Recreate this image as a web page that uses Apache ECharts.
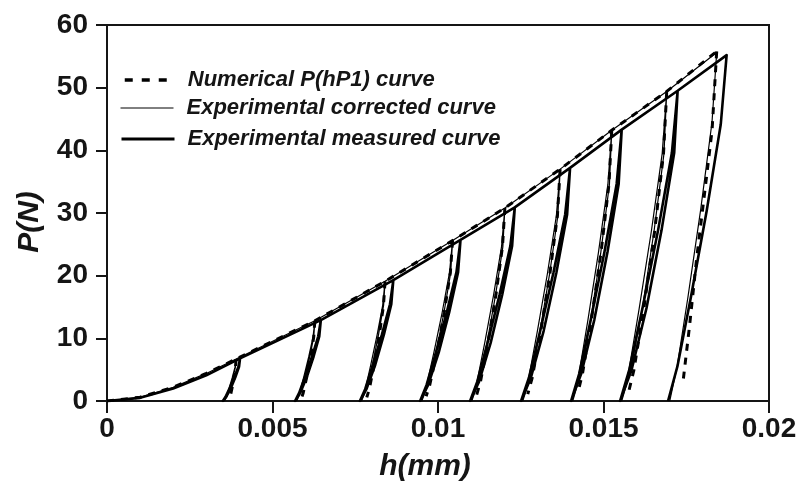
<!DOCTYPE html>
<html>
<head>
<meta charset="utf-8">
<script src="https://cdn.jsdelivr.net/npm/echarts@6/dist/echarts.min.js"></script>
<style>
html,body{margin:0;padding:0;background:#fff;}
#chart{width:802px;height:488px;}
</style>
</head>
<body>
<div id="chart"></div>
<script>
// ---- data: [h (mm), P (N)] ----
const seriesNames = ['Numerical P(hP1) curve', 'Experimental corrected curve', 'Experimental measured curve'];
const xTickLabels = ['0', '0.005', '0.01', '0.015', '0.02'];
const yTickLabels = ['0', '10', '20', '30', '40', '50', '60'];

// numerical: loading envelope
const numericalLoading = [[0,0],[0.001,0.6],[0.002,2.2],[0.003,4.4],[0.0039,6.7],[0.00628,12.8],[0.0084,19.1],
  [0.01044,25.6],[0.01202,30.8],[0.01369,37.0],[0.01525,43.2],[0.01691,49.4],[0.01842,55.8]];
// numerical: unloading branches
const numericalUnloading = [
  [[0.0039,6.7],[0.003882,5.36],[0.003834,3.69],[0.003775,2.01],[0.00372,0.67],[0.003691,0.2]],
  [[0.00628,12.8],[0.006246,10.24],[0.006151,7.04],[0.006035,3.84],[0.005927,1.28],[0.005872,0.38]],
  [[0.0084,19.1],[0.008354,15.28],[0.008226,10.51],[0.008069,5.73],[0.007924,1.91],[0.007849,0.57]],
  [[0.01044,25.6],[0.010373,20.48],[0.010188,14.08],[0.009961,7.68],[0.009751,2.56],[0.009642,0.77]],
  [[0.01202,30.8],[0.011948,24.64],[0.01175,16.94],[0.011507,9.24],[0.011282,3.08],[0.011165,0.92]],
  [[0.01369,37.0],[0.013608,29.6],[0.013381,20.35],[0.013103,11.1],[0.012845,3.7],[0.012712,1.11]],
  [[0.01525,43.2],[0.015164,34.56],[0.014926,23.76],[0.014634,12.96],[0.014364,4.32],[0.014224,1.3]],
  [[0.01691,49.4],[0.016813,39.52],[0.016547,27.17],[0.01622,14.82],[0.015918,4.94],[0.015761,1.48]],
  [[0.01842,55.8],[0.01828,43.2],[0.01805,33],[0.01782,23],[0.0176,12],[0.01741,3.4]]
];

// experimental corrected curve (load / unload / reload cycles)
const correctedCurve = [
  [0,0],[0.001,0.6],[0.002,2.2],[0.003,4.4],
  [0.0039,6.7],[0.003865,5.36],[0.003781,3.69],[0.003687,2.01],[0.003606,0.67],[0.00355,0],[0.00362,0.67],[0.003711,2.01],[0.003802,3.69],[0.003879,5.36],[0.0039,6.7],
  [0.00628,12.8],[0.006225,10.24],[0.006093,7.04],[0.005945,3.84],[0.005818,1.28],[0.00573,0],[0.00584,1.28],[0.005983,3.84],[0.006126,7.04],[0.006247,10.24],[0.00628,12.8],
  [0.0084,19.1],[0.008329,15.28],[0.008159,10.51],[0.007967,5.73],[0.007804,1.91],[0.00769,0],[0.007832,1.91],[0.008017,5.73],[0.008201,10.51],[0.008357,15.28],[0.0084,19.1],
  [0.01044,25.6],[0.010347,20.48],[0.010124,14.08],[0.009873,7.68],[0.009659,2.56],[0.00951,0],[0.009696,2.56],[0.009938,7.68],[0.01018,14.08],[0.010384,20.48],[0.01044,25.6],
  [0.01202,30.8],[0.01192,24.64],[0.01168,16.94],[0.01141,9.24],[0.01118,3.08],[0.01102,0],[0.01122,3.08],[0.01148,9.24],[0.01174,16.94],[0.01196,24.64],[0.01202,30.8],
  [0.01369,37.0],[0.013577,29.6],[0.013306,20.35],[0.013001,11.1],[0.012741,3.7],[0.01256,0],[0.012786,3.7],[0.01308,11.1],[0.013374,20.35],[0.013622,29.6],[0.01369,37.0],
  [0.01525,43.2],[0.015132,34.56],[0.014849,23.76],[0.01453,12.96],[0.014259,4.32],[0.01407,0],[0.014306,4.32],[0.014613,12.96],[0.01492,23.76],[0.015179,34.56],[0.01525,43.2],
  [0.01691,49.4],[0.016774,39.52],[0.016448,27.17],[0.01608,14.82],[0.015768,4.94],[0.01555,0],[0.015822,4.94],[0.016176,14.82],[0.016529,27.17],[0.016828,39.52],[0.01691,49.4],
  [0.01842,55.6],[0.018278,44.48],[0.017937,30.58],[0.017554,16.68],[0.017227,5.56],[0.017,0]
];

// experimental measured curve (load / unload / reload cycles)
const measuredCurve = [
  [0,0],[0.001,0.5],[0.002,2.0],[0.003,4.1],
  [0.00402,6.8],[0.003968,5.44],[0.003843,3.74],[0.003703,2.04],[0.003583,0.68],[0.0035,0],[0.003604,0.68],[0.003739,2.04],[0.003874,3.74],[0.003989,5.44],[0.00402,6.8],
  [0.00646,12.9],[0.006382,10.32],[0.006195,7.1],[0.005984,3.87],[0.005805,1.29],[0.00568,0],[0.005836,1.29],[0.006039,3.87],[0.006242,7.1],[0.006413,10.32],[0.00646,12.9],
  [0.00865,19.3],[0.008549,15.44],[0.008307,10.62],[0.008034,5.79],[0.007802,1.93],[0.00764,0],[0.007842,1.93],[0.008105,5.79],[0.008367,10.62],[0.008589,15.44],[0.00865,19.3],
  [0.01068,25.7],[0.010558,20.56],[0.010265,14.14],[0.009936,7.71],[0.009655,2.57],[0.00946,0],[0.009704,2.57],[0.010021,7.71],[0.010338,14.14],[0.010607,20.56],[0.01068,25.7],
  [0.01232,30.9],[0.012185,24.72],[0.011861,17.0],[0.011497,9.27],[0.011186,3.09],[0.01097,0],[0.01124,3.09],[0.011591,9.27],[0.011942,17.0],[0.012239,24.72],[0.01232,30.9],
  [0.01399,37.2],[0.013842,29.76],[0.013487,20.46],[0.013087,11.16],[0.012747,3.72],[0.01251,0],[0.012806,3.72],[0.013191,11.16],[0.013576,20.46],[0.013901,29.76],[0.01399,37.2],
  [0.01555,43.3],[0.015397,34.64],[0.01503,23.82],[0.014617,12.99],[0.014265,4.33],[0.01402,0],[0.014326,4.33],[0.014724,12.99],[0.015122,23.82],[0.015458,34.64],[0.01555,43.3],
  [0.01724,49.5],[0.017066,39.6],[0.016648,27.23],[0.016179,14.85],[0.015778,4.95],[0.0155,0],[0.015848,4.95],[0.0163,14.85],[0.016753,27.23],[0.017136,39.6],[0.01724,49.5],
  [0.01872,55.2],[0.018543,44.16],[0.018118,30.36],[0.01764,16.56],[0.017233,5.52],[0.01695,0]
];

// build numerical series data with gaps between branches
const numericalData = numericalLoading.slice();
numericalUnloading.forEach(function (branch) {
  numericalData.push([branch[0][0], '-']);
  branch.forEach(function (p) { numericalData.push(p); });
});

const FONT = '"Liberation Sans", Arial, Helvetica, sans-serif';
const INK = '#151515';

const chart = echarts.init(document.getElementById('chart'), null, { renderer: 'canvas' });

function legendRow(name, top, lineStyle) {
  return {
    data: [name],
    left: 120,
    top: top,
    padding: 0,
    itemWidth: 53,
    itemHeight: 14,
    selectedMode: false,
    itemStyle: { opacity: 0, borderWidth: 0 },
    lineStyle: lineStyle,
    textStyle: {
      fontFamily: FONT, fontSize: 22, fontStyle: 'italic', fontWeight: 'bold', color: INK,
      padding: [0, 0, 0, 8]
    }
  };
}

chart.setOption({
  animation: false,
  backgroundColor: '#ffffff',
  grid: {
    left: 107, right: 33, top: 25, bottom: 87,
    show: true, borderColor: INK, borderWidth: 2, backgroundColor: 'transparent'
  },
  legend: [
    legendRow(seriesNames[0], 69, { color: '#000', width: 3.5, type: [8, 9], dashOffset: -3 }),
    legendRow(seriesNames[1], 97, { color: '#000', width: 1, type: 'solid' }),
    legendRow(seriesNames[2], 128, { color: '#000', width: 3, type: 'solid' })
  ],
  xAxis: {
    type: 'value', min: 0, max: 0.02, interval: 0.005,
    name: 'h(mm)', nameLocation: 'middle', nameGap: 51,
    nameTextStyle: { fontFamily: FONT, fontSize: 30, fontStyle: 'italic', fontWeight: 'bold', color: INK, padding: [0, 26, 0, 0] },
    axisLine: { show: true, onZero: false, lineStyle: { color: INK, width: 2 } },
    axisTick: { show: true, inside: false, length: 12, lineStyle: { color: INK, width: 2 } },
    axisLabel: {
      margin: 14, fontFamily: FONT, fontSize: 28, fontWeight: 'bold', color: INK,
      formatter: function (v) { return xTickLabels[Math.round(v / 0.005)]; }
    },
    splitLine: { show: false }
  },
  yAxis: {
    type: 'value', min: 0, max: 60, interval: 10,
    name: 'P(N)', nameLocation: 'middle', nameGap: 62,
    nameTextStyle: { fontFamily: FONT, fontSize: 30, fontStyle: 'italic', fontWeight: 'bold', color: INK, padding: [0, 18, 0, 0] },
    axisLine: { show: true, onZero: false, lineStyle: { color: INK, width: 2 } },
    axisTick: { show: true, inside: false, length: 11, lineStyle: { color: INK, width: 2 } },
    axisLabel: {
      margin: 19, fontFamily: FONT, fontSize: 28, fontWeight: 'bold', color: INK,
      formatter: function (v) { return yTickLabels[Math.round(v / 10)]; }
    },
    splitLine: { show: false }
  },
  series: [
    {
      name: seriesNames[0], type: 'line', data: numericalData,
      symbol: 'none', showSymbol: false, connectNulls: false, z: 4,
      lineStyle: { color: '#000', width: 3, type: [7, 7], join: 'round' },
      itemStyle: { color: '#000' }
    },
    {
      name: seriesNames[1], type: 'line', data: correctedCurve,
      symbol: 'none', showSymbol: false, z: 3,
      lineStyle: { color: '#000', width: 1.2, join: 'round' },
      itemStyle: { color: '#000' }
    },
    {
      name: seriesNames[2], type: 'line', data: measuredCurve,
      symbol: 'none', showSymbol: false, z: 2,
      lineStyle: { color: '#000', width: 2.6, join: 'round' },
      itemStyle: { color: '#000' }
    }
  ]
});
</script>
</body>
</html>
